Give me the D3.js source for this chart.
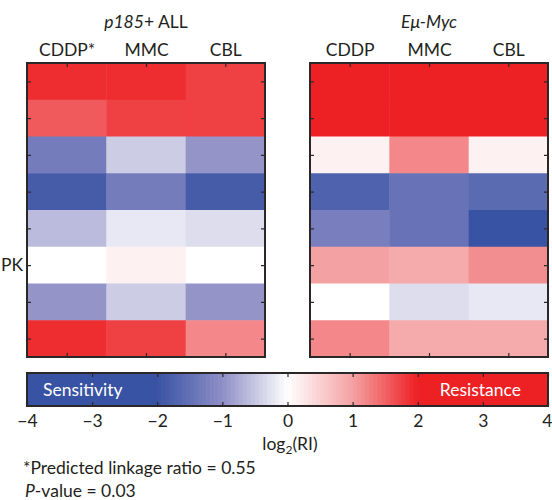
<!DOCTYPE html>
<html><head><meta charset="utf-8">
<script src="https://cdn.jsdelivr.net/npm/d3@7"></script>
<style>
html,body{margin:0;padding:0;background:#fff;}
text{font-family:Lato,"Open Sans",sans-serif;fill:#231f20;}
</style></head>
<body><svg id="chart" width="552" height="500"></svg>
<script>
// ---- data ----
const drugs1 = ["CDDP*", "MMC", "CBL"];
const drugs2 = ["CDDP", "MMC", "CBL"];
const rowIds = ["r1","r2","r3","r4","r5","r6","r7","r8"];
// log2(RI) values, rows top->bottom, columns CDDP, MMC, CBL
const p185Values = [
  [1.9, 1.9, 1.75],
  [1.55, 1.75, 1.75],
  [-1.3, -0.45, -0.95],
  [-1.85, -1.3, -1.85],
  [-0.6, -0.2, -0.3],
  [0.0, 0.15, 0.0],
  [-0.95, -0.45, -0.95],
  [1.9, 1.75, 1.2]
];
const emuValues = [
  [2.6, 2.6, 2.6],
  [2.6, 2.6, 2.6],
  [0.15, 1.2, 0.15],
  [-1.75, -1.45, -1.6],
  [-1.25, -1.45, -2.1],
  [1.0, 0.9, 1.15],
  [0.0, -0.3, -0.2],
  [1.2, 0.9, 0.9]
];
const cbTicks = [-4, -3, -2, -1, 0, 1, 2, 3, 4];
const colorStops = [-2, -1, 0, 1, 2];
const colorRange = ["#3953a4", "#8e8ec6", "#ffffff", "#f4a1a3", "#ed2024"];

// ---- drawing ----
const FS = 17.5;
const svg = d3.select("#chart");
const color = d3.scaleLinear().domain(colorStops).range(colorRange).clamp(true);
const fmtMinus = d => (d < 0 ? "\u2212" + Math.abs(d) : String(d));

function panel(x0, x1, y0, y1, cols, values, titleParts) {
  const g = svg.append("g");
  const x = d3.scaleBand().domain(d3.range(cols.length)).range([x0, x1]);
  const y = d3.scaleBand().domain(rowIds).range([y0, y1]);
  const cells = [];
  values.forEach((row, i) => row.forEach((v, j) => cells.push({i, j, v})));
  g.selectAll("rect.cell").data(cells).join("rect")
    .attr("class", "cell")
    .attr("x", d => x(d.j)).attr("y", d => y(rowIds[d.i]))
    .attr("width", x.bandwidth() + 0.5).attr("height", y.bandwidth() + 0.5)
    .attr("fill", d => color(d.v));
  // frame
  g.append("rect").attr("x", x0).attr("y", y0).attr("width", x1 - x0).attr("height", y1 - y0)
    .attr("fill", "none").attr("stroke", "#2b2627").attr("stroke-width", 2);
  // axes with inward ticks
  const xc = d3.scalePoint().domain(cols).range([x0 + x.bandwidth()/2, x1 - x.bandwidth()/2]);
  const yc = d3.scalePoint().domain(rowIds).range([y0 + y.bandwidth()/2, y1 - y.bandwidth()/2]);
  const top = g.append("g").attr("transform", `translate(0,${y0})`)
    .call(d3.axisTop(xc).tickSize(-4).tickPadding(7));
  const bot = g.append("g").attr("transform", `translate(0,${y1})`)
    .call(d3.axisBottom(xc).tickSize(-4).tickFormat(""));
  const lf = g.append("g").attr("transform", `translate(${x0},0)`)
    .call(d3.axisLeft(yc).tickSize(-4).tickFormat(""));
  const rt = g.append("g").attr("transform", `translate(${x1},0)`)
    .call(d3.axisRight(yc).tickSize(-4).tickFormat(""));
  [top, bot, lf, rt].forEach(a => {
    a.select(".domain").remove();
    a.selectAll(".tick line").attr("stroke", "#2b2627").attr("stroke-width", 1.2);
  });
  top.selectAll(".tick text").attr("font-size", FS).attr("font-family", "Lato, sans-serif").attr("fill", "#231f20");
  // title
  const t = g.append("text").attr("x", (x0 + x1) / 2).attr("y", 28)
    .attr("text-anchor", "middle").attr("font-size", FS);
  titleParts.forEach(p => t.append("tspan").attr("font-style", p.italic ? "italic" : "normal").text(p.t));
  return {x, y, yc};
}

const L = panel(27, 265, 63, 357, drugs1, p185Values, [{t: "p185", italic: true}, {t: "+ ALL", italic: false}]);
panel(310, 548, 63, 357, drugs2, emuValues, [{t: "E\u03bc-Myc", italic: true}]);

// row label fragment at the left edge
svg.append("text").attr("x", 1).attr("y", L.yc("r6") + 6)
  .attr("font-size", FS).text("PK");

// ---- colorbar ----
const cbX = d3.scaleLinear().domain([-4, 4]).range([27, 548]);
const cbY0 = 373, cbY1 = 406;
const nBands = 64;
const bandW = 4 / nBands;
const bands = d3.range(nBands).map(k => -2 + k * bandW);
const cb = svg.append("g");
cb.append("rect").attr("x", cbX(-4)).attr("y", cbY0).attr("width", cbX(-2) - cbX(-4) + 2).attr("height", cbY1 - cbY0).attr("fill", color(-2));
cb.append("rect").attr("x", cbX(2) - 2).attr("y", cbY0).attr("width", cbX(4) - cbX(2) + 2).attr("height", cbY1 - cbY0).attr("fill", color(2));
cb.selectAll("rect.band").data(bands).join("rect").attr("class", "band")
  .attr("x", d => cbX(d)).attr("y", cbY0)
  .attr("width", cbX(bandW) - cbX(0) + 0.6).attr("height", cbY1 - cbY0)
  .attr("fill", d => color(d + bandW / 2));
cb.append("rect").attr("x", cbX(-4)).attr("y", cbY0).attr("width", cbX(4) - cbX(-4)).attr("height", cbY1 - cbY0)
  .attr("fill", "none").attr("stroke", "#2b2627").attr("stroke-width", 2);
const cbTop = cb.append("g").attr("transform", `translate(0,${cbY0})`)
  .call(d3.axisTop(cbX).tickValues(cbTicks).tickSize(-4).tickFormat(""));
const cbBot = cb.append("g").attr("transform", `translate(0,${cbY1})`)
  .call(d3.axisBottom(cbX).tickValues(cbTicks).tickSize(-4).tickPadding(9).tickFormat(fmtMinus));
[cbTop, cbBot].forEach(a => {
  a.select(".domain").remove();
  a.selectAll(".tick line").attr("stroke", "#2b2627").attr("stroke-width", 1.2);
});
cbBot.selectAll(".tick text").attr("font-size", FS).attr("font-family", "Lato, sans-serif").attr("fill", "#231f20");
// keep the last label inside the picture
cbBot.selectAll(".tick text").filter(d => d === 4).attr("text-anchor", "end").attr("x", 4);

cb.append("text").attr("x", 43).attr("y", 396).attr("font-size", FS).style("fill", "#fff").text("Sensitivity");
cb.append("text").attr("x", 521).attr("y", 396).attr("text-anchor", "end").attr("font-size", FS).style("fill", "#fff").text("Resistance");

const lab = svg.append("text").attr("x", 290).attr("y", 450).attr("text-anchor", "middle").attr("font-size", FS);
lab.append("tspan").text("log");
lab.append("tspan").attr("font-size", 12).attr("dy", 4).text("2");
lab.append("tspan").attr("dy", -4).text("(RI)");

svg.append("text").attr("x", 23).attr("y", 474).attr("font-size", FS).text("*Predicted linkage ratio = 0.55");
const pv = svg.append("text").attr("x", 25).attr("y", 497).attr("font-size", FS);
pv.append("tspan").attr("font-style", "italic").text("P");
pv.append("tspan").text("-value = 0.03");
</script></body></html>
